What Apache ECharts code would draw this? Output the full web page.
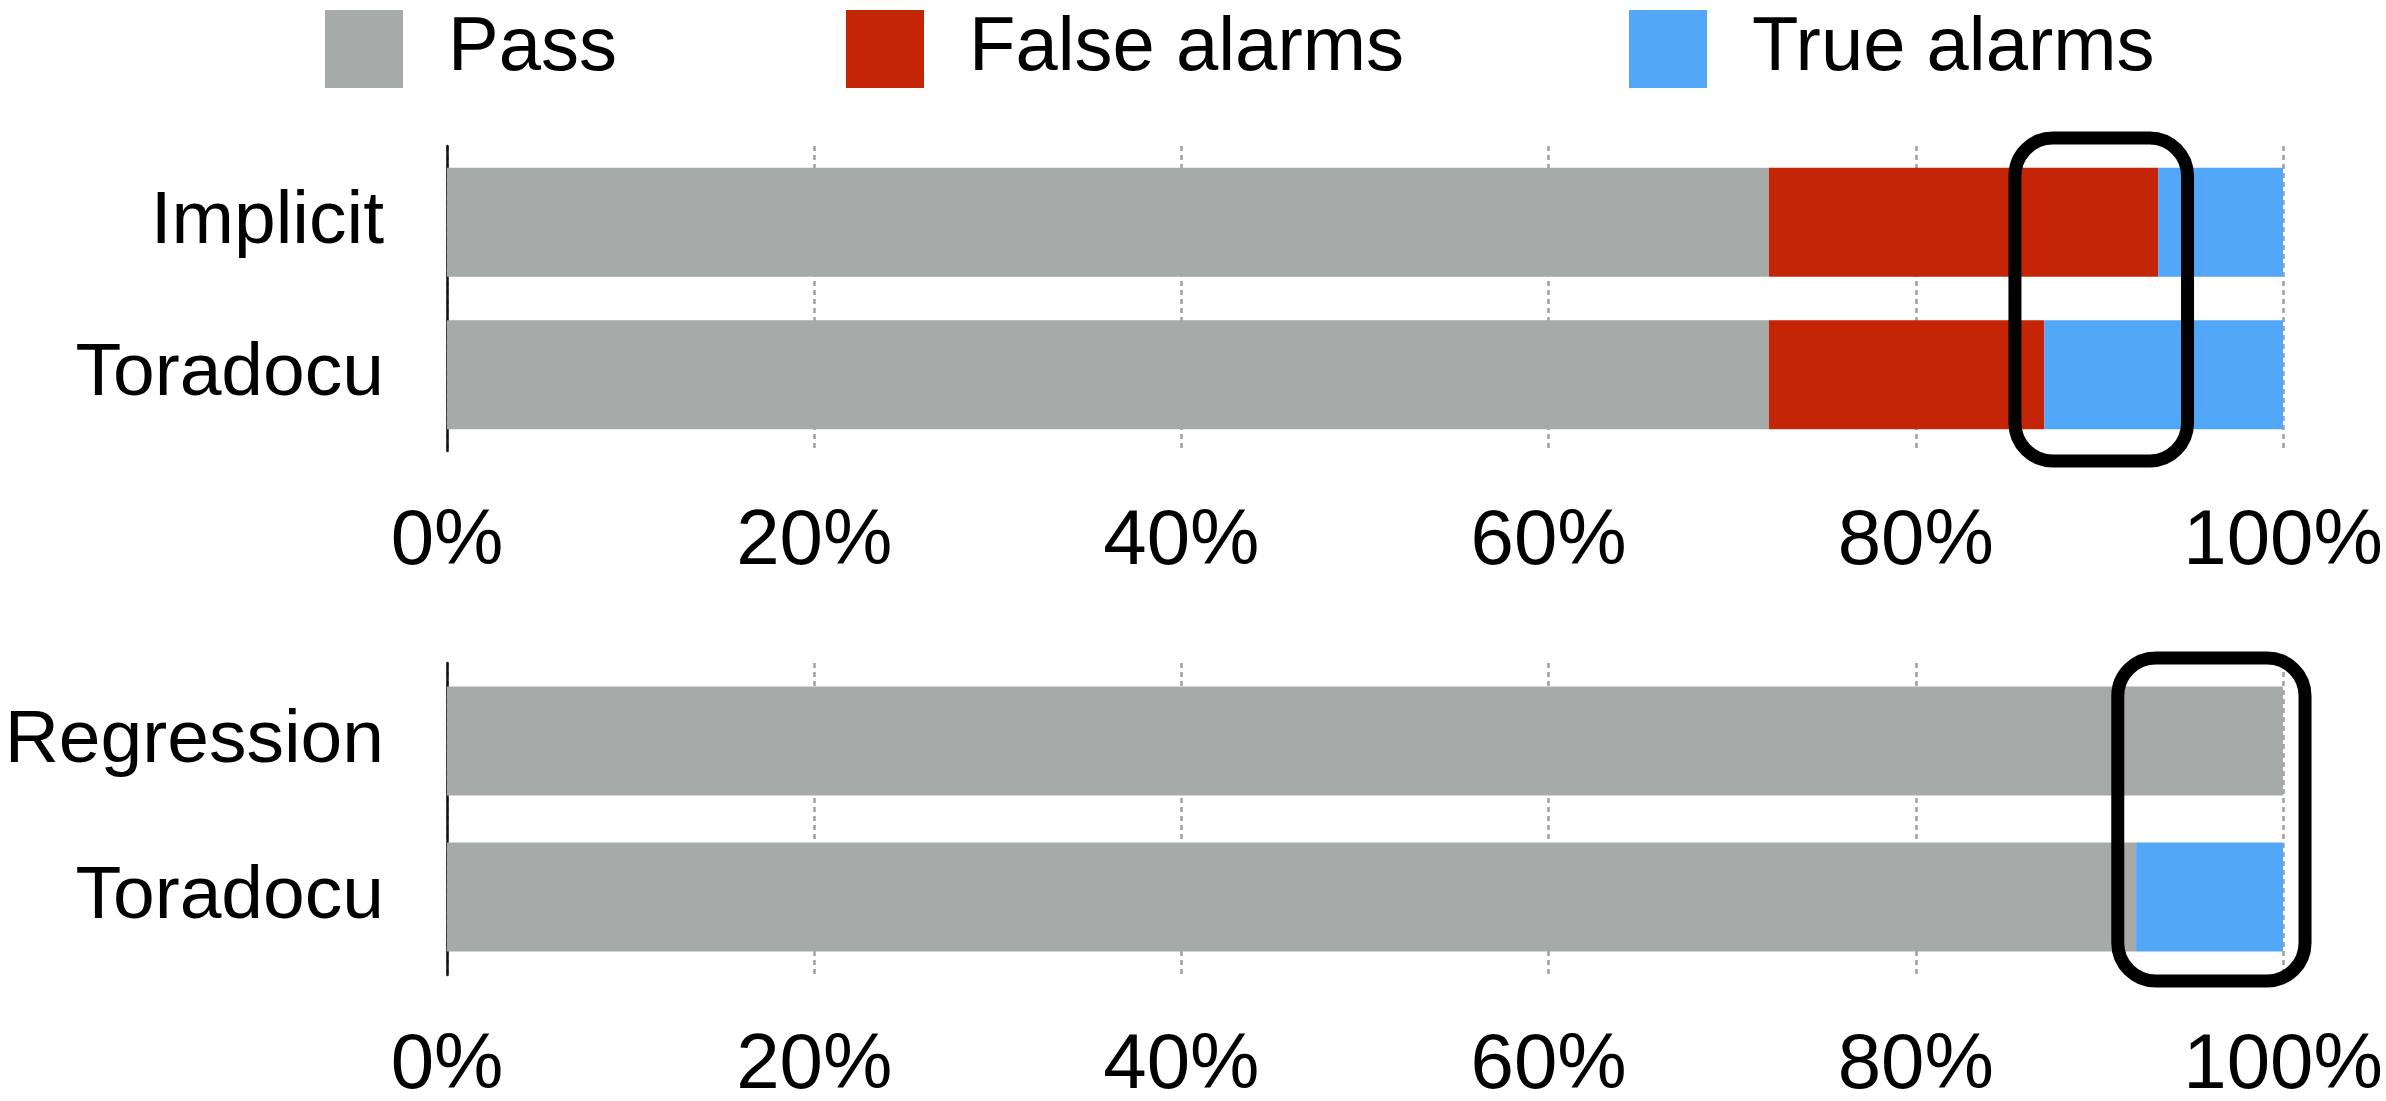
<!DOCTYPE html>
<html>
<head>
<meta charset="utf-8">
<script src="https://cdn.jsdelivr.net/npm/echarts@6/dist/echarts.min.js"></script>
<style>
  body { margin: 0; background: #fff; }
</style>
</head>
<body>
<div id="myChart" style="width:2386px;height:1101px"></div>
<script>
var topCategories = ['Implicit', 'Toradocu']
var bottomCategories = ['Regression', 'Toradocu']

var topPass = [72.0, 72.0]
var topFalse = [21.2, 15.0]
var topTrue = [6.8, 13.0]

var bottomPass = [100, 92.0]
var bottomFalse = [0, 0]
var bottomTrue = [0, 8.0]

var tickValues = [0, 20, 40, 60, 80, 100]

var colors = { 'Pass': '#a6aaa9', 'False alarms': '#c52507', 'True alarms': '#52a7f8' }
var font = 'Liberation Sans, Arial, Helvetica, sans-serif'

function makeLegend (name, left) {
  return {
    data: [name],
    left: left,
    top: 5,
    itemWidth: 78,
    itemHeight: 78,
    icon: 'rect',
    selectedMode: false,
    textStyle: { fontSize: 76, fontFamily: font, color: '#000', padding: [0, 0, 0, 40] }
  }
}

function makeXAxis (gridIndex) {
  return {
    type: 'value',
    gridIndex: gridIndex,
    min: tickValues[0],
    max: tickValues[tickValues.length - 1],
    interval: 20,
    axisLine: { show: false },
    axisTick: { show: false },
    axisLabel: {
      formatter: '{value}%',
      fontSize: 78,
      fontFamily: font,
      color: '#000',
      margin: 52
    },
    splitLine: {
      show: true,
      lineStyle: { color: '#a0a0a0', width: 2.5, type: [5, 4] }
    }
  }
}

function makeYAxis (gridIndex, cats) {
  return {
    type: 'category',
    gridIndex: gridIndex,
    inverse: true,
    data: cats,
    axisLine: { show: true, lineStyle: { color: '#111', width: 2.5 } },
    axisTick: { show: false },
    axisLabel: { fontSize: 75, fontFamily: font, color: '#000', margin: 63 }
  }
}

function makeBar (name, gridIndex, data) {
  return {
    name: name,
    type: 'bar',
    stack: 'total' + gridIndex,
    xAxisIndex: gridIndex,
    yAxisIndex: gridIndex,
    barWidth: 109,
    itemStyle: { color: colors[name] },
    data: data
  }
}

var myChart = echarts.init(document.getElementById('myChart'))

myChart.setOption({
  animation: false,
  backgroundColor: '#fff',
  legend: [
    makeLegend('Pass', 320),
    makeLegend('False alarms', 841),
    makeLegend('True alarms', 1624)
  ],
  grid: [
    { left: 447, right: 103, top: 146, height: 305, outerBoundsMode: 'none', containLabel: false },
    { left: 447, right: 103, top: 663, height: 312, outerBoundsMode: 'none', containLabel: false }
  ],
  xAxis: [makeXAxis(0), makeXAxis(1)],
  yAxis: [makeYAxis(0, topCategories), makeYAxis(1, bottomCategories)],
  series: [
    makeBar('Pass', 0, topPass),
    makeBar('False alarms', 0, topFalse),
    makeBar('True alarms', 0, topTrue),
    makeBar('Pass', 1, bottomPass),
    makeBar('False alarms', 1, bottomFalse),
    makeBar('True alarms', 1, bottomTrue)
  ]
})

// highlight boxes, given as x-range in percent plus pixel overhang above/below the panel
var boxes = [
  { grid: 0, from: 85.4, to: 94.8, top: 138, bottom: 461 },
  { grid: 1, from: 91.0, to: 101.2, top: 658, bottom: 981 }
]

var graphics = boxes.map(function (b) {
  var x0 = myChart.convertToPixel({ xAxisIndex: b.grid }, b.from)
  var x1 = myChart.convertToPixel({ xAxisIndex: b.grid }, b.to)
  return {
    type: 'rect',
    z: 100,
    shape: { x: x0, y: b.top, width: x1 - x0, height: b.bottom - b.top, r: 38 },
    style: { fill: 'none', stroke: '#000', lineWidth: 13 }
  }
})

myChart.setOption({ graphic: graphics })
</script>
</body>
</html>
